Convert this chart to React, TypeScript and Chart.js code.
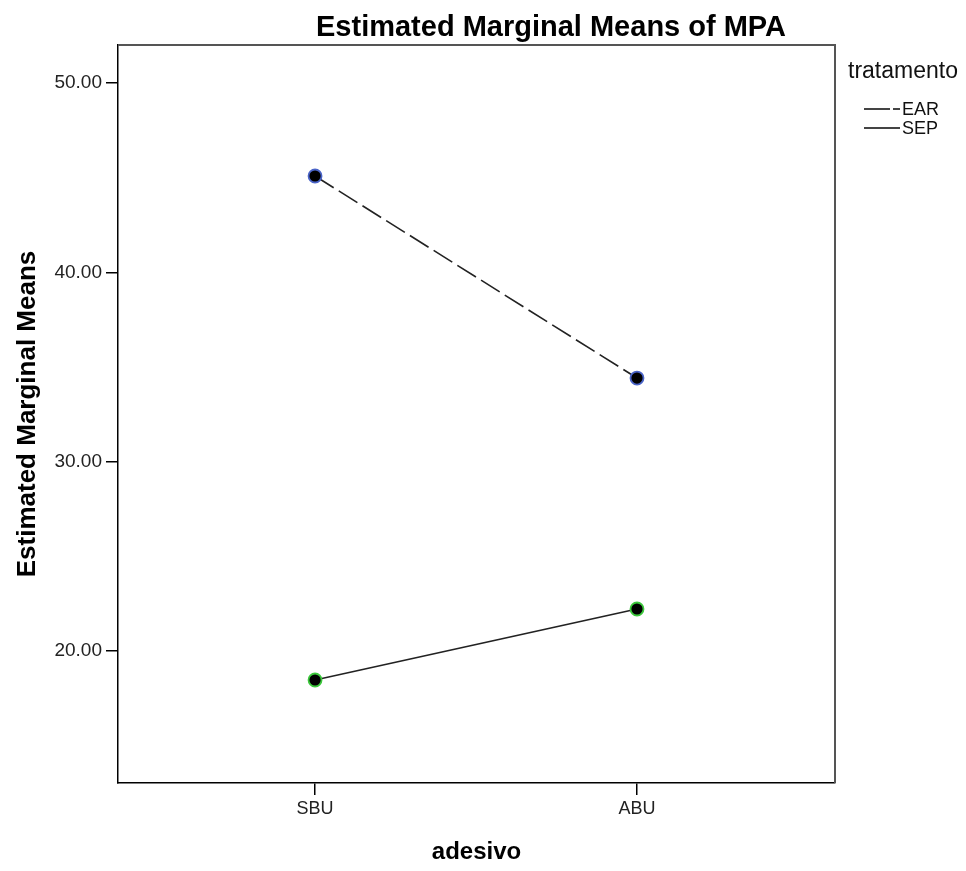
import React, { useEffect, useRef } from 'react';
import { Chart, registerables } from 'chart.js';

Chart.register(...registerables);

const categories = ['SBU', 'ABU'];
const seriesNames = ['EAR', 'SEP'];
const earValues = [45.09, 34.42];
const sepValues = [18.47, 22.22];
const yTickValues = [20, 30, 40, 50];
const chartTitle = 'Estimated Marginal Means of MPA';
const legendTitle = 'tratamento';
const yTitle = 'Estimated Marginal Means';
const xTitle = 'adesivo';

const FONT = '"Liberation Sans", Arial, sans-serif';

export default function App() {
  const ref = useRef<HTMLCanvasElement>(null);

  useEffect(() => {
    const canvas = ref.current;
    if (!canvas) return;

    const decor = {
      id: 'decor',
      beforeDatasetsDraw(chart: any) {
        const { ctx, chartArea: a } = chart;
        ctx.save();
        ctx.strokeStyle = '#555';
        ctx.lineWidth = 2;
        ctx.beginPath();
        ctx.moveTo(a.left, a.top);
        ctx.lineTo(a.right, a.top);
        ctx.lineTo(a.right, a.bottom);
        ctx.stroke();
        ctx.restore();
      },
      afterDraw(chart: any) {
        const { ctx } = chart;
        ctx.save();
        ctx.fillStyle = '#000';
        ctx.font = `bold 29px ${FONT}`;
        ctx.textAlign = 'center';
        ctx.textBaseline = 'middle';
        ctx.fillText(chartTitle, 551, 28);

        // legend
        ctx.textAlign = 'left';
        ctx.font = `23px ${FONT}`;
        ctx.fillStyle = '#111';
        ctx.fillText(legendTitle, 848, 72);
        ctx.font = `18px ${FONT}`;
        const rows = [109, 128];
        seriesNames.forEach((name, i) => {
          const y = rows[i];
          ctx.strokeStyle = '#444';
          ctx.lineWidth = 2;
          ctx.beginPath();
          if (i === 0) {
            ctx.moveTo(864, y); ctx.lineTo(890, y);
            ctx.moveTo(893, y); ctx.lineTo(900, y);
          } else {
            ctx.moveTo(864, y); ctx.lineTo(900, y);
          }
          ctx.stroke();
          ctx.fillStyle = '#111';
          ctx.fillText(name, 902, y + 1);
        });
        ctx.restore();
      },
    };

    const chart = new Chart(canvas, {
      type: 'line',
      data: {
        datasets: [
          {
            label: seriesNames[0],
            data: earValues.map((y, i) => ({ x: i + 1, y })),
            borderColor: '#222',
            borderWidth: 1.6,
            borderDash: [22, 6],
            pointRadius: 6.5,
            pointBackgroundColor: '#000',
            pointBorderColor: '#4a64c8',
            pointBorderWidth: 1.8,
          },
          {
            label: seriesNames[1],
            data: sepValues.map((y, i) => ({ x: i + 1, y })),
            borderColor: '#222',
            borderWidth: 1.6,
            pointRadius: 6.5,
            pointBackgroundColor: '#000',
            pointBorderColor: '#3cc83c',
            pointBorderWidth: 1.8,
          },
        ],
      },
      options: {
        responsive: false,
        animation: false,
        layout: { padding: { top: 45, right: 131, bottom: 0, left: 0 } },
        plugins: {
          legend: { display: false },
          tooltip: { enabled: false },
          title: { display: false },
        },
        scales: {
          x: {
            type: 'linear',
            min: 0.388,
            max: 2.615,
            afterFit: (s: any) => { s.height = 88; },
            afterBuildTicks: (s: any) => { s.ticks = categories.map((_, i) => ({ value: i + 1 })); },
            ticks: {
              autoSkip: false,
              maxRotation: 0,
              padding: 3,
              color: '#222',
              font: { family: FONT, size: 18 },
              callback: (v: any) => categories[Number(v) - 1] ?? '',
            },
            grid: { drawOnChartArea: false, drawTicks: true, tickLength: 12, color: '#000', lineWidth: 1.5 },
            border: { display: true, color: '#000', width: 1.5 },
            title: {
              display: true,
              text: xTitle,
              color: '#000',
              font: { family: FONT, size: 24, weight: 'bold' },
              padding: { top: 0, bottom: 4 },
            },
          },
          y: {
            type: 'linear',
            min: 13.03,
            max: 52.01,
            afterFit: (s: any) => { s.width = 118; },
            afterBuildTicks: (s: any) => { s.ticks = yTickValues.map((v) => ({ value: v })); },
            ticks: {
              autoSkip: false,
              padding: 4,
              color: '#222',
              font: { family: FONT, size: 19 },
              callback: (v: any) => Number(v).toFixed(2),
            },
            grid: { drawOnChartArea: false, drawTicks: true, tickLength: 12, color: '#000', lineWidth: 1.5 },
            border: { display: true, color: '#000', width: 1.5 },
            title: {
              display: true,
              text: yTitle,
              color: '#000',
              font: { family: FONT, size: 26, weight: 'bold' },
              padding: { top: 12, bottom: 0 },
            },
          },
        },
      },
      plugins: [decor],
    } as any);

    return () => chart.destroy();
  }, []);

  return (
    <div style={{ position: 'absolute', left: 0, top: 0, width: 966, height: 871, background: '#fff' }}>
      <canvas ref={ref} width={966} height={871} style={{ display: 'block' }} />
    </div>
  );
}
